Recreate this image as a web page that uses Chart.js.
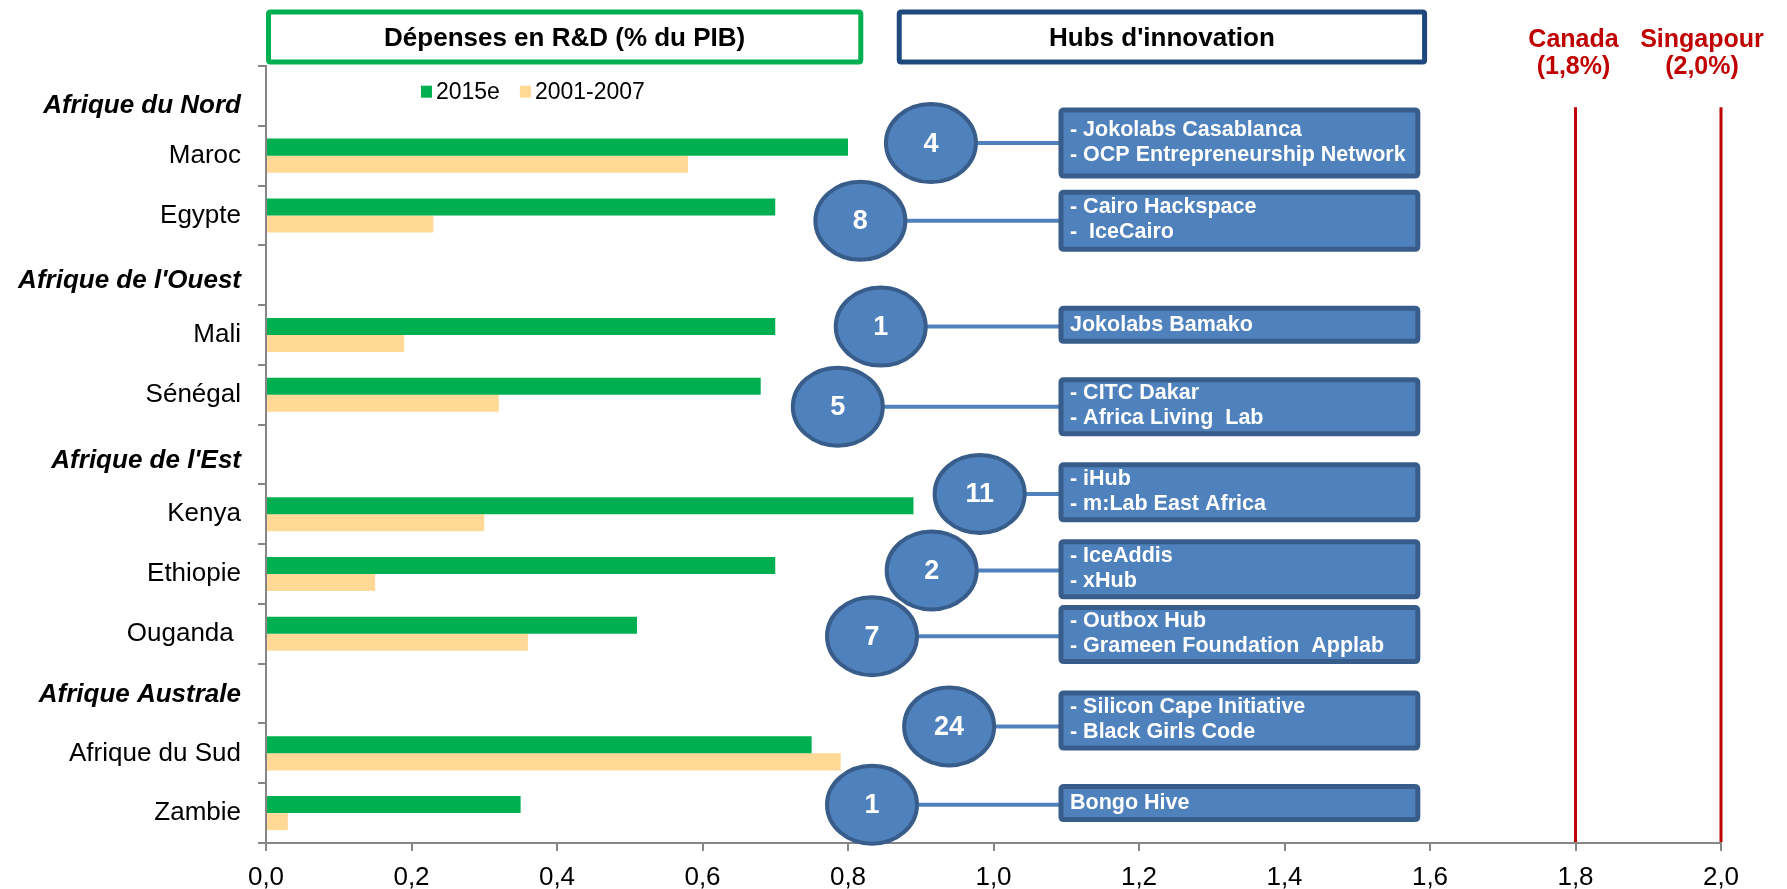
<!DOCTYPE html>
<html lang="fr">
<head>
<meta charset="UTF-8">
<title>R&D et hubs d'innovation</title>
<style>
  html, body { margin: 0; padding: 0; background: #fff; }
  .wrap { width: 1787px; height: 889px; position: relative; }
</style>
</head>
<body>
<div class="wrap">
  <canvas id="graf"></canvas>
</div>
<script src="https://cdn.jsdelivr.net/npm/chart.js"></script>
<script>
  // données
  const categories = ['Afrique du Nord', 'Maroc', 'Egypte', "Afrique de l'Ouest", 'Mali', 'Sénégal',
    "Afrique de l'Est", 'Kenya', 'Ethiopie', 'Ouganda ', 'Afrique Australe', 'Afrique du Sud', 'Zambie'];
  const regionRows = [0, 3, 6, 10];
  const rd2015 = [null, 0.80, 0.70, null, 0.70, 0.68, null, 0.89, 0.70, 0.51, null, 0.75, 0.35];
  const rd2001 = [null, 0.58, 0.23, null, 0.19, 0.32, null, 0.30, 0.15, 0.36, null, 0.79, 0.03];
  const seriesNames = ['2015e', '2001-2007'];
  const xTicks = [0, 0.2, 0.4, 0.6, 0.8, 1.0, 1.2, 1.4, 1.6, 1.8, 2.0];

  const hubCounts = [4, 8, 1, 5, 11, 2, 7, 24, 1];
  const hubNames = [
    ['- Jokolabs Casablanca', '- OCP Entrepreneurship Network'],
    ['- Cairo Hackspace', '-  IceCairo'],
    ['Jokolabs Bamako'],
    ['- CITC Dakar', '- Africa Living  Lab'],
    ['- iHub', '- m:Lab East Africa'],
    ['- IceAddis', '- xHub'],
    ['- Outbox Hub', '- Grameen Foundation  Applab'],
    ['- Silicon Cape Initiative', '- Black Girls Code'],
    ['Bongo Hive']
  ];

  const benchNames = ['Canada', 'Singapour'];
  const benchValues = [1.8, 2.0];

  // mise en page des bulles (unités des axes : x = valeur, y = rang de catégorie)
  const hubCircleX = [0.914, 0.817, 0.845, 0.786, 0.981, 0.915, 0.833, 0.939, 0.833];
  const hubBoxRow = [0.79, 2.09, 3.83, 5.20, 6.63, 7.92, 9.01, 10.45, 11.83];
  const hubCircleRow = [0.79, 2.09, 3.86, 5.20, 6.66, 7.94, 9.04, 10.55, 11.86];
  const hubBoxH = [66, 57, 33, 54, 55, 55, 54, 55, 33];
  const regionShift = [10, 6, 6, 1]; // décalage vertical des titres de région (px)

  const FONT = '"Liberation Sans", Arial, sans-serif';
  const VERT = '#00B050';
  const BEIGE = '#FFD995';
  const BLEU = '#4F81BD';
  const BLEU_FONCE = '#385D8A';
  const ROUGE = '#C00000';
  const GRIS = '#868686';

  function boite(ctx, x, y, w, h, r) {
    ctx.beginPath();
    ctx.moveTo(x + r, y);
    ctx.lineTo(x + w - r, y);
    ctx.quadraticCurveTo(x + w, y, x + w, y + r);
    ctx.lineTo(x + w, y + h - r);
    ctx.quadraticCurveTo(x + w, y + h, x + w - r, y + h);
    ctx.lineTo(x + r, y + h);
    ctx.quadraticCurveTo(x, y + h, x, y + h - r);
    ctx.lineTo(x, y + r);
    ctx.quadraticCurveTo(x, y, x + r, y);
    ctx.closePath();
  }

  const decor = {
    id: 'decor',
    afterDatasetsDraw(chart) {
      const ctx = chart.ctx;
      const xs = chart.scales.x;
      const ys = chart.scales.y;
      const area = chart.chartArea;
      ctx.save();

      // titres de région (gras italique)
      ctx.fillStyle = '#000';
      ctx.font = 'italic bold 26px ' + FONT;
      ctx.textAlign = 'right';
      ctx.textBaseline = 'middle';
      regionRows.forEach((r, k) => {
        ctx.fillText(categories[r], area.left - 25, ys.getPixelForValue(r) + regionShift[k]);
      });

      // titres encadrés
      const titres = [
        { t: 'Dépenses en R&D (% du PIB)', a: 0, b: 0.821, c: VERT },
        { t: "Hubs d'innovation", a: 0.867, b: 1.596, c: '#1F497D' }
      ];
      titres.forEach(h => {
        const x1 = xs.getPixelForValue(h.a), x2 = xs.getPixelForValue(h.b);
        ctx.lineWidth = 5;
        ctx.strokeStyle = h.c;
        ctx.fillStyle = '#fff';
        boite(ctx, x1 + 2.5, 12, x2 - x1 - 5, 50, 2);
        ctx.fill();
        ctx.stroke();
        ctx.fillStyle = '#000';
        ctx.font = 'bold 26px ' + FONT;
        ctx.textAlign = 'center';
        ctx.textBaseline = 'middle';
        ctx.fillText(h.t, (x1 + x2) / 2, 39);
      });

      // légende
      const ly = ys.getPixelForValue(-0.07);
      ctx.font = '23px ' + FONT;
      ctx.textAlign = 'left';
      ctx.textBaseline = 'middle';
      let lx = xs.getPixelForValue(0.213);
      [VERT, BEIGE].forEach((c, i) => {
        ctx.fillStyle = c;
        ctx.fillRect(lx, ly - 6, 11, 12);
        ctx.fillStyle = '#000';
        ctx.fillText(seriesNames[i], lx + 15, ly + 1);
        lx += 15 + ctx.measureText(seriesNames[i]).width + 20;
      });

      // repères Canada / Singapour
      benchValues.forEach((v, i) => {
        const px = xs.getPixelForValue(v);
        ctx.strokeStyle = ROUGE;
        ctx.lineWidth = 3;
        ctx.beginPath();
        ctx.moveTo(px, ys.getPixelForValue(0.19));
        ctx.lineTo(px, area.bottom - 1);
        ctx.stroke();
        const lxp = i === benchValues.length - 1 ? px - 19 : px - 2;
        ctx.fillStyle = ROUGE;
        ctx.font = 'bold 25px ' + FONT;
        ctx.textAlign = 'center';
        ctx.fillText(benchNames[i], lxp, 40);
        ctx.fillText('(' + v.toFixed(1).replace('.', ',') + '%)', lxp, 67);
      });

      // hubs d'innovation
      const bx1 = xs.getPixelForValue(1.090);
      const bx2 = xs.getPixelForValue(1.586);
      hubCounts.forEach((n, i) => {
        const by = ys.getPixelForValue(hubBoxRow[i]);
        const cy = ys.getPixelForValue(hubCircleRow[i]);
        const cx = xs.getPixelForValue(hubCircleX[i]);
        const h = hubBoxH[i];
        const rx = 45, ry = 39;

        ctx.strokeStyle = BLEU;
        ctx.lineWidth = 4;
        ctx.beginPath();
        ctx.moveTo(cx + rx, cy);
        ctx.lineTo(bx1, cy);
        ctx.stroke();

        ctx.fillStyle = BLEU;
        ctx.strokeStyle = BLEU_FONCE;
        ctx.lineWidth = 5;
        boite(ctx, bx1 + 2, by - h / 2, bx2 - bx1 - 4, h, 3);
        ctx.fill();
        ctx.stroke();

        ctx.fillStyle = '#fff';
        ctx.font = 'bold 21.5px ' + FONT;
        ctx.textAlign = 'left';
        ctx.textBaseline = 'middle';
        const lignes = hubNames[i];
        const y0 = by - (lignes.length - 1) * 25 / 2 - (lignes.length > 1 ? 1 : 0);
        lignes.forEach((l, k) => ctx.fillText(l, bx1 + 11, y0 + k * 25));

        ctx.beginPath();
        ctx.ellipse(cx, cy, rx, ry, 0, 0, Math.PI * 2);
        ctx.fillStyle = BLEU;
        ctx.fill();
        ctx.strokeStyle = BLEU_FONCE;
        ctx.lineWidth = 4;
        ctx.stroke();
        ctx.fillStyle = '#fff';
        ctx.font = 'bold 27px ' + FONT;
        ctx.textAlign = 'center';
        ctx.fillText(String(n), cx, cy + 1);
      });

      ctx.restore();
    }
  };

  const ctx = document.getElementById('graf').getContext('2d');
  const grafico = new Chart(ctx, {
    type: 'bar',
    data: {
      labels: categories,
      datasets: [
        { label: seriesNames[0], data: rd2015, backgroundColor: VERT, barPercentage: 1, categoryPercentage: 0.57 },
        { label: seriesNames[1], data: rd2001, backgroundColor: BEIGE, barPercentage: 1, categoryPercentage: 0.57 }
      ]
    },
    options: {
      indexAxis: 'y',
      responsive: true,
      maintainAspectRatio: false,
      devicePixelRatio: 1,
      animation: false,
      layout: { padding: { top: 66, right: 66, left: 0, bottom: 0 } },
      scales: {
        x: {
          type: 'linear',
          min: 0,
          max: 2,
          afterFit: s => { s.height = 46; },
          afterBuildTicks: s => { s.ticks = xTicks.map(v => ({ value: v })); },
          ticks: {
            color: '#000',
            font: { family: FONT, size: 26 },
            padding: 11,
            callback: v => Number(v).toFixed(1).replace('.', ',')
          },
          grid: { drawOnChartArea: false, drawTicks: true, tickLength: 8, color: GRIS, lineWidth: 2 },
          border: { color: GRIS, width: 2 }
        },
        y: {
          afterFit: s => { s.width = 266; },
          ticks: {
            color: '#000',
            padding: 17,
            autoSkip: false,
            font: { family: FONT, size: 26 },
            // les titres de région sont dessinés par le plugin
            callback: (v, i) => regionRows.includes(i) ? '' : categories[i]
          },
          grid: { drawOnChartArea: false, drawTicks: true, tickLength: 8, color: GRIS, lineWidth: 2, offset: true },
          border: { color: GRIS, width: 2 }
        }
      },
      plugins: {
        legend: { display: false },
        tooltip: { enabled: false },
        title: { display: false }
      }
    },
    plugins: [decor]
  });
</script>
</body>
</html>
